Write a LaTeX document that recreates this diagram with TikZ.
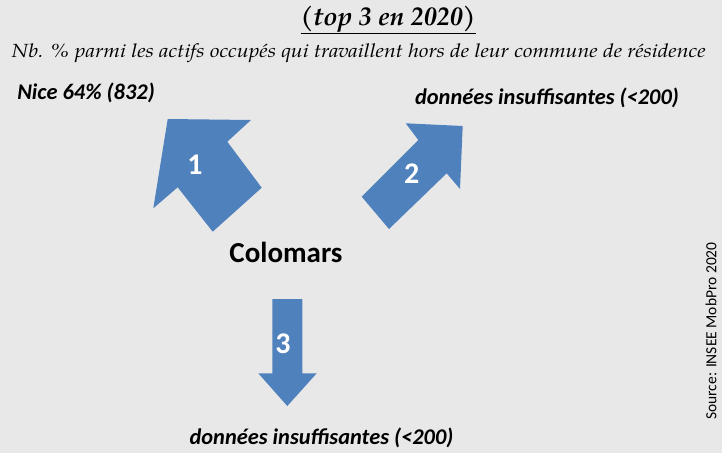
\documentclass[tikz,border=0pt]{standalone}
\usepackage{fontspec}
\setmainfont{Carlito}
\newfontfamily\pala{TeX Gyre Pagella}
\definecolor{bg}{RGB}{232,232,232}
\definecolor{arrowblue}{RGB}{79,129,189}
\begin{document}
\begin{tikzpicture}[x=1pt,y=-1pt,
  arrowshape/.style={fill=arrowblue, draw=none},
  num/.style={text=white, font=\bfseries\fontsize{30}{30}\selectfont, inner sep=0pt},
  lbl/.style={font=\bfseries\itshape\fontsize{22.4}{24}\selectfont, inner sep=0pt},
  ttl/.style={inner sep=0pt}]
\fill[bg] (0,0) rectangle (722,453);
\useasboundingbox (0,0) rectangle (722,453);
% titles
\node[ttl, anchor=base, font=\pala\bfseries\itshape\fontsize{26}{28}\selectfont] (title) at (388,25) {\underline{(top 3 en 2020)}};
\node[ttl, anchor=base west, font=\pala\itshape\fontsize{19}{21}\selectfont] (sub) at (11.5,57.3) {\scalebox{1.124}[1]{Nb. \% parmi les actifs occup\'es qui travaillent hors de leur commune de r\'esidence}};
% arrows
\fill[arrowshape] (167.7,119) -- (251,120) -- (227.3,141.7) -- (261.7,187.7) -- (212.7,231.7) -- (177.7,187.3) -- (153.3,208.3) -- cycle;
\fill[arrowshape] (462.7,126) -- (405.7,123.3) -- (418.3,140) -- (361.7,196.7) -- (389,229) -- (446.7,173.3) -- (460,189) -- cycle;
\fill[arrowshape] (272.3,299) -- (302.3,299) -- (302.3,373.3) -- (316.7,373.3) -- (287.3,406) -- (258.3,373.3) -- (272.3,373.3) -- cycle;
\node[num] (n1) at (195,165) {1};
\node[num] (n2) at (411.7,174) {2};
\node[num] (n3) at (283,344) {3};
% labels
\node[lbl] (nice) at (86,93) {Nice 64\% (832)};
\node[lbl] (d2) at (547,98) {donn\'ees insuffisantes (<200)};
\node[lbl] (d3) at (321.5,438) {donn\'ees insuffisantes (<200)};
\node[inner sep=0pt, font=\bfseries\fontsize{29}{30}\selectfont] (col) at (286,252) {Colomars};
\node[inner sep=0pt, rotate=90, font=\fontsize{15.5}{16}\selectfont] (src) at (711,331) {Source: INSEE MobPro 2020};
\end{tikzpicture}
\end{document}
